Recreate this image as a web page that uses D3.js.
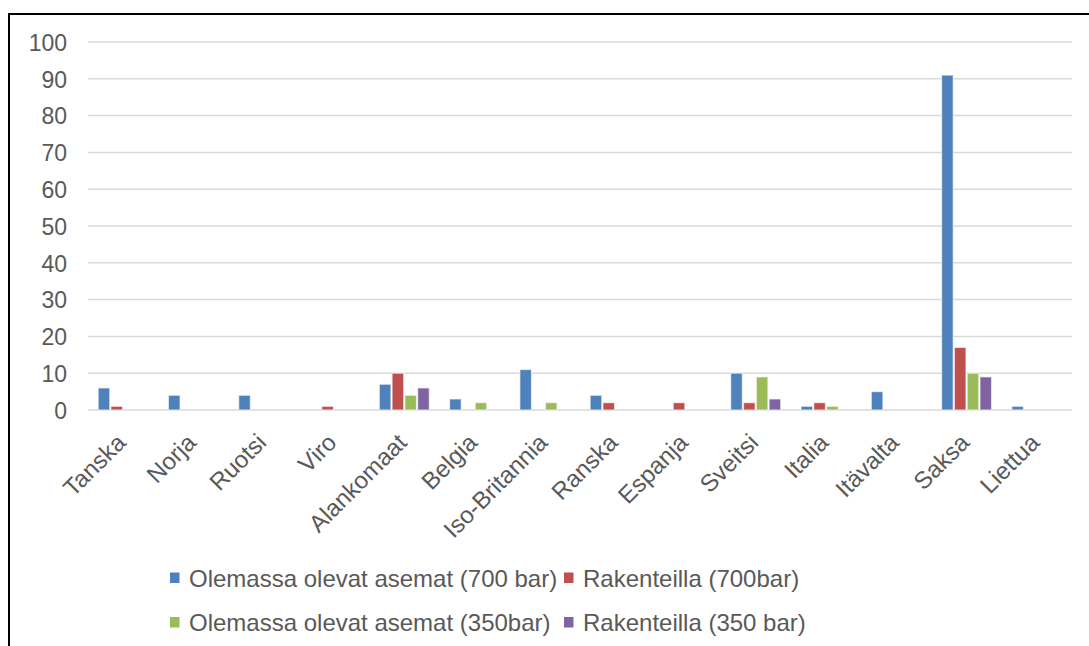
<!DOCTYPE html>
<html><head><meta charset="utf-8">
<script src="https://cdn.jsdelivr.net/npm/d3@7"></script>
<style>body{margin:0;background:#fff}svg{display:block}text{font-family:"Liberation Sans",Arial,sans-serif;fill:#595959}</style>
</head><body><svg id="c" width="1089" height="646"></svg>
<script>
const categories = ["Tanska","Norja","Ruotsi","Viro","Alankomaat","Belgia","Iso-Britannia","Ranska","Espanja","Sveitsi","Italia","Itävalta","Saksa","Liettua"];
const seriesNames = ["Olemassa olevat asemat (700 bar)","Rakenteilla (700bar)","Olemassa olevat asemat (350bar)","Rakenteilla (350 bar)"];
const existing700 = [6,4,4,0,7,3,11,4,0,10,1,5,91,1];
const building700 = [1,0,0,1,10,0,0,2,2,2,2,0,17,0];
const existing350 = [0,0,0,0,4,2,2,0,0,9,1,0,10,0];
const building350 = [0,0,0,0,6,0,0,0,0,3,0,0,9,0];
const yTicks = [0,10,20,30,40,50,60,70,80,90,100];
const colors = ["#4F81BD","#C0504D","#9BBB59","#8064A2"];
const values = [existing700, building700, existing350, building350];

(function(){
const svg = d3.select("#c");
svg.append("rect").attr("x",9).attr("y",14).attr("width",1200).attr("height",800)
  .attr("fill","none").attr("stroke","#000").attr("stroke-width",2);

const pL=88, pR=1072, pT=42, pB=410;
const x = d3.scaleBand().domain(categories).range([pL,pR]).paddingInner(0.272).paddingOuter(0.136);
const xs = d3.scaleBand().domain(d3.range(4)).range([0,x.bandwidth()]);
const y = d3.scaleLinear().domain([0,100]).range([pB,pT]);

svg.append("g").selectAll("line").data(yTicks).join("line")
  .attr("x1",pL).attr("x2",pR).attr("y1",d=>y(d)).attr("y2",d=>y(d))
  .attr("stroke","#D9D9D9").attr("stroke-width",1.5);

const yAxis = d3.axisLeft(y).tickValues(yTicks).tickSize(0).tickPadding(0);
const gy = svg.append("g").attr("transform",`translate(67,0)`).call(yAxis);
gy.select(".domain").remove();
gy.attr("font-family",null).attr("font-size",null);
gy.selectAll("text").style("font-size","23px").attr("fill","#595959").attr("dy","0.36em");

values.forEach((arr,si)=>{
  svg.append("g").selectAll("rect").data(arr.map((v,i)=>({v,c:categories[i]}))).join("rect")
    .attr("x",d=>x(d.c)+xs(si)+0.6).attr("width",xs.bandwidth()-1.2)
    .attr("y",d=>y(d.v)).attr("height",d=>y(0)-y(d.v))
    .attr("fill",colors[si]).attr("stroke","#fff").attr("stroke-width",1.2).attr("stroke-opacity",0.6)
    .style("display",d=>d.v>0?null:"none");
});

const gx = svg.append("g").attr("transform",`translate(0,${pB})`)
  .call(d3.axisBottom(x).tickSize(0).tickPadding(0));
gx.select(".domain").remove();
gx.attr("font-family",null).attr("font-size",null);
gx.selectAll("text").style("font-size","24px").attr("fill","#595959")
  .attr("text-anchor","end").attr("dy","0")
  .attr("transform","translate(4,34) rotate(-45)").attr("y",0).attr("x",0);

const rows=[[0,1],[2,3]], rowY=[586.5,631], itemX=[[170,564],[170,564]];
rows.forEach((r,ri)=>{
  r.forEach((si,k)=>{
    const cx=itemX[ri][k];
    svg.append("rect").attr("x",cx).attr("y",rowY[ri]-14).attr("width",9.5).attr("height",10.5).attr("fill",colors[si]);
    svg.append("text").attr("x",cx+19).attr("y",rowY[ri])
      .style("font-size","24px").text(seriesNames[si]);
  });
});
})();
</script></body></html>
